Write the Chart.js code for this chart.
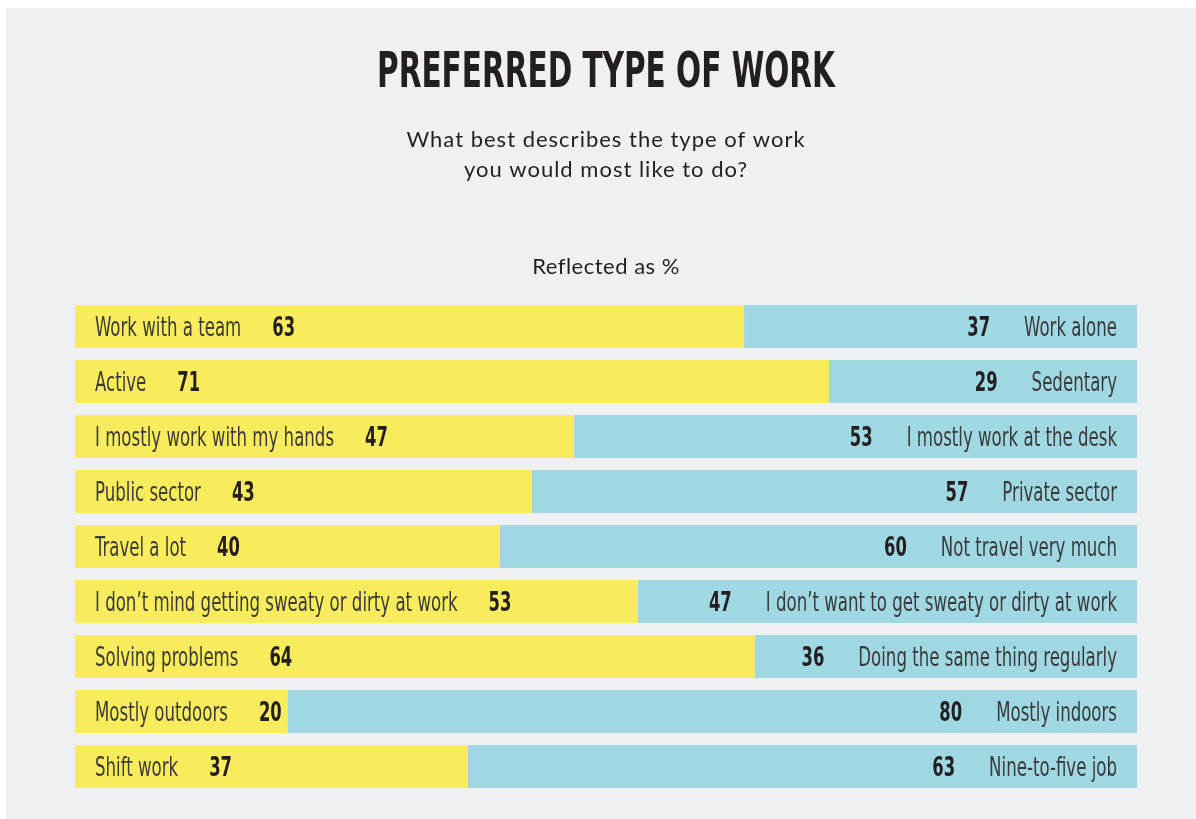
<!DOCTYPE html>
<html lang="en">
<head>
    <meta charset="UTF-8">
    <title>Preferred type of work</title>
    <script src="https://cdn.jsdelivr.net/npm/chart.js"></script>
    <style>
        html, body { margin: 0; padding: 0; background: #ffffff; overflow: hidden; }
        canvas { display: block; }
    </style>
</head>
<body>
    <canvas id="workChart" width="1196" height="819"></canvas>

    <script>
        // survey answers, left option vs right option, in %
        const leftLabels = [
            'Work with a team', 'Active', 'I mostly work with my hands', 'Public sector',
            'Travel a lot', 'I don\u2019t mind getting sweaty or dirty at work',
            'Solving problems', 'Mostly outdoors', 'Shift work'
        ];
        const rightLabels = [
            'Work alone', 'Sedentary', 'I mostly work at the desk', 'Private sector',
            'Not travel very much', 'I don\u2019t want to get sweaty or dirty at work',
            'Doing the same thing regularly', 'Mostly indoors', 'Nine-to-five job'
        ];
        const leftValues = [63, 71, 47, 43, 40, 53, 64, 20, 37];
        const rightValues = [37, 29, 53, 57, 60, 47, 36, 80, 63];

        const YELLOW = '#f8ec5c';
        const BLUE = '#9fd8e2';
        const NARROW = '"DejaVu Sans Condensed", "Liberation Sans Narrow", sans-serif';
        const PLAIN = 'Lato, "Noto Sans", sans-serif';

        // draws text squeezed horizontally, returns the drawn width
        function narrowText(ctx, text, x, y, align, sx) {
            ctx.save();
            ctx.translate(x, y);
            ctx.scale(sx, 1);
            ctx.textAlign = align;
            ctx.fillText(text, 0, 0);
            ctx.restore();
            return ctx.measureText(text).width * sx;
        }

        const textPlugin = {
            id: 'texts',
            beforeDraw(chart) {
                const ctx = chart.ctx;
                ctx.save();
                ctx.fillStyle = '#ffffff';
                ctx.fillRect(0, 0, chart.width, chart.height);
                ctx.fillStyle = '#eff0f2';
                ctx.fillRect(6, 8, chart.width - 6, chart.height - 8);
                ctx.restore();
            },
            afterDatasetsDraw(chart) {
                const ctx = chart.ctx;
                const area = chart.chartArea;
                const cx = (area.left + area.right) / 2;
                ctx.save();
                ctx.textBaseline = 'alphabetic';

                // headings
                ctx.fillStyle = '#231f20';
                ctx.font = 'bold 49px ' + NARROW;
                narrowText(ctx, 'PREFERRED TYPE OF WORK', cx, 87, 'center', 0.67);
                ctx.font = '22px ' + PLAIN;
                ctx.letterSpacing = '1px';
                ctx.textAlign = 'center';
                ctx.fillText('What best describes the type of work', cx, 147);
                ctx.fillText('you would most like to do?', cx, 177);
                ctx.letterSpacing = '0.5px';
                ctx.fillText('Reflected as %', cx, 274);
                ctx.letterSpacing = '0px';

                // bar labels
                const metaL = chart.getDatasetMeta(0);
                metaL.data.forEach((bar, i) => {
                    const y = bar.y + 9.5;
                    ctx.fillStyle = '#3a3a3a';
                    ctx.font = '26px ' + NARROW;
                    const w = narrowText(ctx, leftLabels[i], area.left + 20, y, 'left', 0.71);
                    ctx.fillStyle = '#231f20';
                    ctx.font = 'bold 26px ' + NARROW;
                    narrowText(ctx, String(leftValues[i]), area.left + 20 + w + 31, y, 'left', 0.7);

                    ctx.fillStyle = '#3a3a3a';
                    ctx.font = '26px ' + NARROW;
                    const wr = narrowText(ctx, rightLabels[i], area.right - 20, y, 'right', 0.71);
                    ctx.fillStyle = '#231f20';
                    ctx.font = 'bold 26px ' + NARROW;
                    narrowText(ctx, String(rightValues[i]), area.right - 20 - wr - 34, y, 'right', 0.7);
                });
                ctx.restore();
            }
        };

        new Chart(document.getElementById('workChart'), {
            type: 'bar',
            data: {
                labels: leftLabels,
                datasets: [{
                    label: 'Left option',
                    data: leftValues,
                    backgroundColor: YELLOW,
                    barPercentage: 43 / 55,
                    categoryPercentage: 1
                }, {
                    label: 'Right option',
                    data: rightValues,
                    backgroundColor: BLUE,
                    barPercentage: 43 / 55,
                    categoryPercentage: 1
                }]
            },
            options: {
                indexAxis: 'y',
                responsive: false,
                animation: false,
                layout: {
                    padding: { left: 75, right: 59, top: 299, bottom: 25 }
                },
                scales: {
                    x: { stacked: true, min: 0, max: 100, display: false },
                    y: { stacked: true, display: false }
                },
                plugins: {
                    legend: { display: false },
                    tooltip: { enabled: false }
                }
            },
            plugins: [textPlugin]
        });
    </script>
</body>
</html>
